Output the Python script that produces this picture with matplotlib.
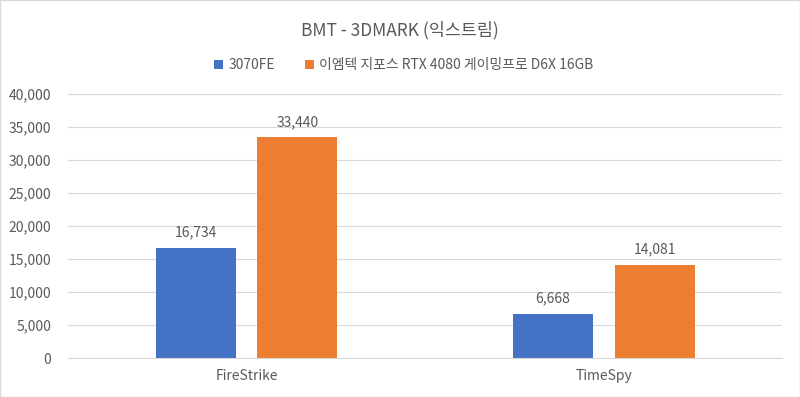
import numpy as np
import matplotlib.pyplot as plt

plt.rcParams['font.family'] = ['Noto Sans CJK KR', 'DejaVu Sans']

categories = ['FireStrike', 'TimeSpy']
series_names = ['3070FE', '이엠텍 지포스 RTX 4080 게이밍프로 D6X 16GB']
s3070 = [16734, 6668]
s4080 = [33440, 14081]
yticks = np.arange(0, 40001, 5000)

blue = '#4472C4'
orange = '#ED7D31'
txt = '#595959'

fig = plt.figure(figsize=(8, 3.97), dpi=100)
ax = fig.add_axes([0.085, 0.098, 0.893, 0.665])

x = np.arange(len(categories))
w = 0.224
off = 0.142
b1 = ax.bar(x - off, s3070, w, color=blue, label=series_names[0])
b2 = ax.bar(x + off, s4080, w, color=orange, label=series_names[1])

# value labels above each bar
for bars in (b1, b2):
    for r in bars:
        ax.text(r.get_x() + r.get_width() / 2, r.get_height() + 1300,
                f'{int(r.get_height()):,}', ha='center', va='bottom',
                fontsize=10, color=txt)

ax.set_xlim(-0.5, 1.5)
ax.set_ylim(0, 40000)
ax.set_yticks(yticks)
ax.set_yticklabels([f'{v:,}' for v in yticks], fontsize=10, color=txt)
ax.set_xticks(x)
ax.set_xticklabels(categories, fontsize=10, color=txt)
ax.tick_params(length=0, pad=8)
ax.tick_params(axis='y', pad=12)
ax.grid(axis='y', color='#D9D9D9', linewidth=0.8)
ax.set_axisbelow(True)
for s in ['top', 'right', 'left']:
    ax.spines[s].set_visible(False)
ax.spines['bottom'].set_color('#D9D9D9')

fig.text(0.5, 0.925, 'BMT - 3DMARK (익스트림)', ha='center', va='center',
         fontsize=12.5, color=txt)
fig.legend(loc='center', bbox_to_anchor=(0.505, 0.836), ncol=2, frameon=False,
           fontsize=10, handlelength=0.6, handleheight=0.6, handletextpad=0.4,
           columnspacing=2.2, labelcolor=txt)

fig.patches.append(plt.Rectangle((0, 0), 1, 1, transform=fig.transFigure,
                                 fill=False, edgecolor='#D9D9D9', linewidth=1))

fig.savefig('out.png', dpi=100)
